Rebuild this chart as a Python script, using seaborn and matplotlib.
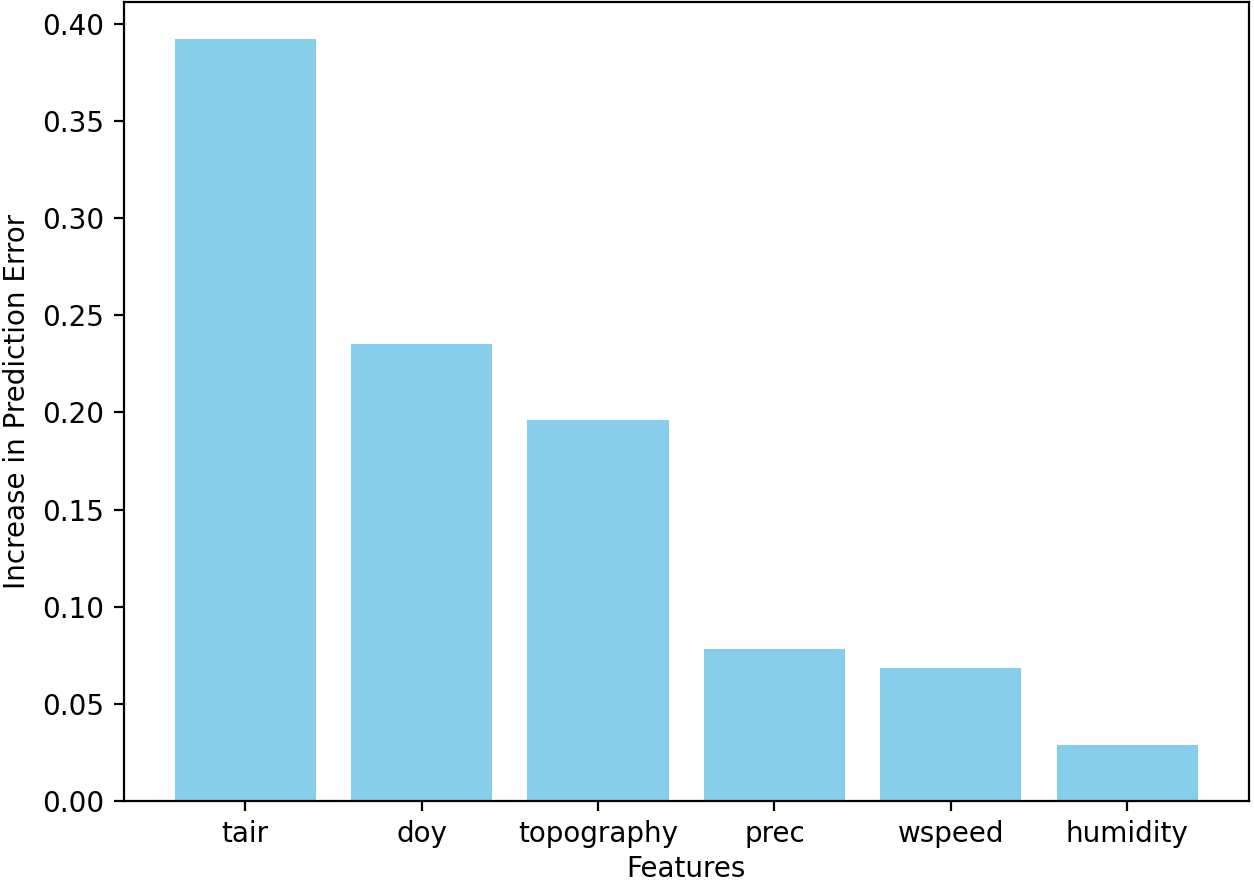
import matplotlib
matplotlib.use("Agg")
import matplotlib.pyplot as plt
import seaborn as sns
import pandas as pd

# feature importance values
features = ["tair", "doy", "topography", "prec", "wspeed", "humidity"]
importance = [0.392, 0.235, 0.196, 0.078, 0.0685, 0.029]

df = pd.DataFrame({"Features": features, "Increase in Prediction Error": importance})

fig, ax = plt.subplots(figsize=(6.27, 4.415), dpi=200)
sns.barplot(data=df, x="Features", y="Increase in Prediction Error",
            color="skyblue", saturation=1, width=0.8, ax=ax)

ax.set_xlim(-0.69, 5.69)
ax.set_ylim(0, 0.4114)
ax.set_yticks([0.0, 0.05, 0.10, 0.15, 0.20, 0.25, 0.30, 0.35, 0.40])
ax.set_yticklabels([f"{v:.2f}" for v in ax.get_yticks()])
ax.set_xlabel("Features", labelpad=2.5)
ax.set_ylabel("Increase in Prediction Error")

fig.subplots_adjust(left=0.0985, right=0.996, top=0.998, bottom=0.0929)
fig.savefig("out.png", dpi=200)
